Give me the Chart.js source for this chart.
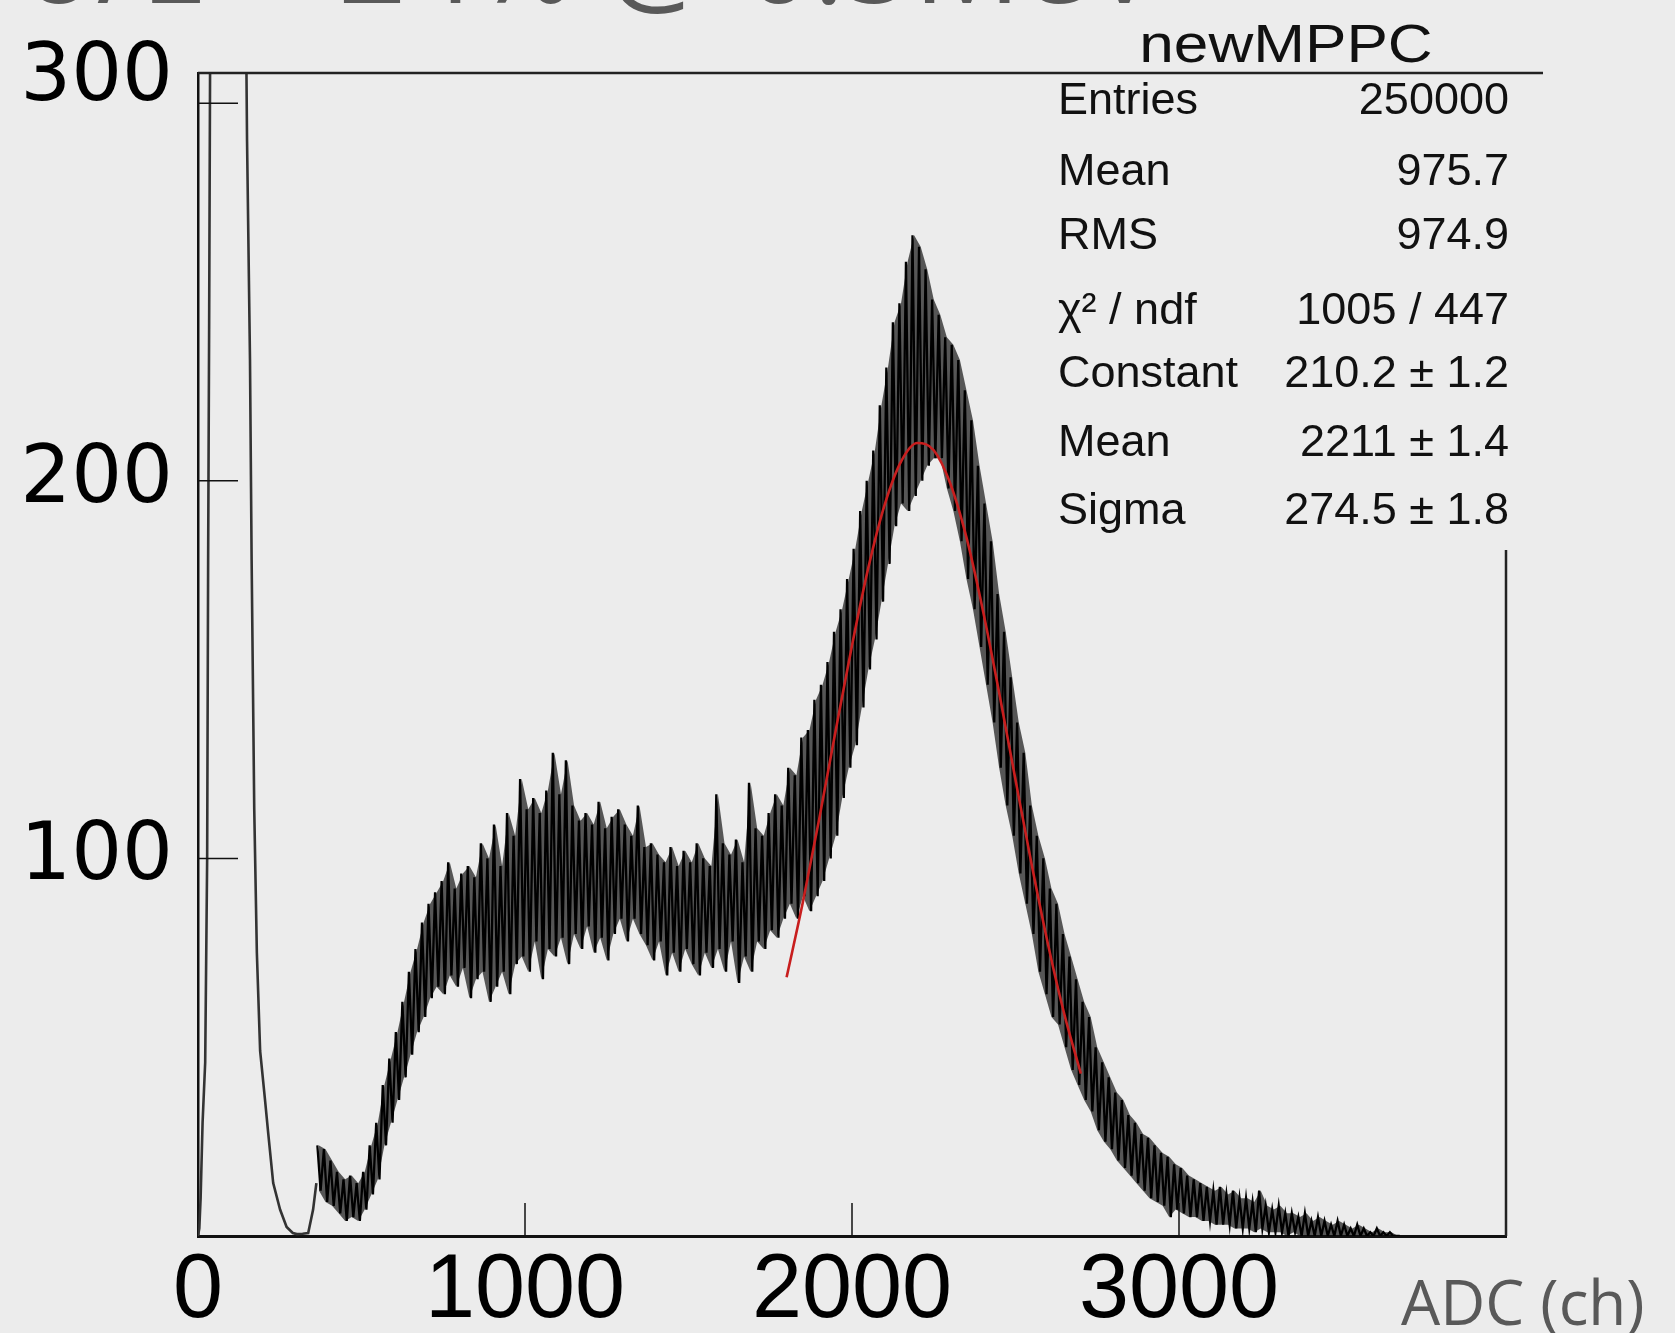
<!DOCTYPE html>
<html>
<head>
<meta charset="utf-8">
<script src="https://cdn.jsdelivr.net/npm/chart.js@4.4.0/dist/chart.umd.min.js"></script>
<style>
  html, body { margin: 0; padding: 0; background: #ececec; }
  #wrap { width: 1675px; height: 1333px; position: relative; }
</style>
</head>
<body>
<div id="wrap"><canvas id="c"></canvas></div>
<script>
  // Achsen
  const X_TICKS = [0, 1000, 2000, 3000];
  const Y_TICKS = [100, 200, 300];
  const X_MAX = 4000;
  const Y_MAX = 308;

  // Pedestal-Peak (links, läuft oben aus dem Bild)
  const PED_ADC   = [0, 4, 8, 14, 22, 28, 31, 34, 37, 40, 60, 120, 146, 148, 150, 159, 164, 172, 180, 190, 205, 215, 230, 251, 271, 290, 302, 320, 337, 352, 362];
  const PED_COUNT = [0, 2, 10, 30, 46, 100, 179, 240, 311, 1000, 3000, 3000, 1000, 310, 290, 232, 179, 113, 75, 49, 36, 27, 14, 7, 2.4, 0.8, 0.5, 0.6, 0.8, 7, 14];

  // Verrauschtes Spektrum: je 20-ADC-Fenster Ober- und Unterkante des Bandes
  const BAND_FIRST = 370;
  const BAND_STEP = 20;
  const BAND_HIGH = [
    24, 23, 20, 17, 15, 16, 14, 17, 24, 30,
    40, 47, 54, 62, 70, 76, 83, 88, 91, 94,
    99, 92, 96, 98, 95, 104, 100, 109, 98, 112,
    106, 121, 113, 116, 112, 118, 128, 117, 126, 114,
    110, 112, 109, 115, 108, 111, 113, 109, 106, 114,
    103, 104, 101, 99, 103, 98, 102, 99, 104, 100,
    98, 117, 104, 101, 105, 99, 120, 108, 106, 112,
    117, 114, 124, 122, 132, 134, 142, 146, 152, 160,
    166, 174, 182, 192, 200, 208, 220, 230, 242, 247,
    258, 265, 262, 256, 248, 244, 238, 236, 232, 224,
    216, 204, 194, 184, 170, 160, 148, 136, 128, 114,
    106, 100, 92, 88, 80, 74, 68, 62, 58, 50,
    46, 42, 38, 36, 32, 30, 27, 26, 24, 22,
    21, 19, 18, 16, 15, 14, 13, 12, 13, 11,
    12, 10, 10, 9, 12, 8, 7, 8, 6, 6,
    5, 6, 4, 5, 4, 3, 4, 3, 2, 3,
    2, 1, 2, 1, 1, 0
  ];
  const BAND_LOW = [
    12, 9, 8, 6, 4, 5, 4, 7, 11, 15,
    24, 30, 36, 42, 48, 54, 58, 63, 66, 64,
    69, 66, 71, 63, 68, 70, 62, 66, 70, 64,
    72, 74, 70, 78, 68, 76, 74, 79, 72, 80,
    76, 82, 75, 79, 73, 80, 84, 78, 84, 80,
    77, 73, 78, 69, 75, 70, 76, 72, 69, 75,
    71, 76, 70, 78, 67, 74, 70, 78, 76, 81,
    79, 84, 88, 84, 90, 86, 90, 94, 100, 106,
    116, 124, 130, 140, 150, 158, 168, 178, 188, 194,
    192, 196, 200, 204, 206, 206, 198, 192, 184, 174,
    166, 156, 146, 136, 124, 114, 106, 96, 88, 80,
    70, 64, 58, 56, 50, 44, 40, 36, 33, 28,
    25, 23, 20, 18, 16, 14, 12, 10, 9, 8,
    5, 7, 6, 5, 5, 4, 4, 3, 3, 3,
    2, 2, 2, 1, 2, 1, 1, 1, 0, 1,
    0, 0, 0, 0, 0, 0, 0, 0, 0, 0,
    0, 0, 0, 0, 0, 0
  ];

  // Gauss-Fit (rote Kurve)
  const FIT_ADC   = [1800, 1850, 1900, 1950, 2000, 2050, 2100, 2150, 2200, 2250, 2300, 2350, 2400, 2450, 2500, 2550, 2600, 2650, 2700];
  const FIT_COUNT = [68.5, 88.5, 110.6, 133.8, 156.4, 177.0, 193.7, 205.1, 210.0, 208.1, 199.4, 185.0, 165.8, 143.9, 120.8, 98.1, 77.0, 58.5, 43.0];

  // Statistik-Box
  const STAT_TITLE = 'newMPPC';
  const STAT_LABELS = ['Entries', 'Mean', 'RMS', 'χ² / ndf', 'Constant', 'Mean', 'Sigma'];
  const STAT_VALUES = ['250000', '975.7', '974.9', '1005 / 447', '210.2 ± 1.2', '2211 ± 1.4', '274.5 ± 1.8'];

  const SLIDE_TITLE = 'σ/E ~ 24% @ 0.5MeV';
  const X_TITLE = 'ADC (ch)';

  const BG = '#ececec';

  // Zickzack zwischen Ober- und Unterkante je Fenster
  const bandPoints = [];
  BAND_HIGH.forEach((h, i) => {
    const c = BAND_FIRST + i * BAND_STEP;
    bandPoints.push({ x: c - 5, y: h }, { x: c + 5, y: BAND_LOW[i] });
  });
  // Hüllkurven fuer die dunkle Kernflaeche
  const bandTop = BAND_HIGH.map((h, i) => ({ x: BAND_FIRST + i * BAND_STEP, y: h }));
  const bandBottom = BAND_LOW.map((l, i) => ({ x: BAND_FIRST + i * BAND_STEP, y: l }));

  const rootStyle = {
    id: 'rootStyle',
    beforeDraw(chart) {
      const ctx = chart.ctx;
      ctx.save();
      ctx.fillStyle = BG;
      ctx.fillRect(0, 0, chart.width, chart.height);
      ctx.restore();
    },
    afterDatasetsDraw(chart) {
      const { ctx, chartArea: a, scales: { x, y } } = chart;
      ctx.save();
      ctx.strokeStyle = '#111';
      ctx.lineWidth = 1.5;
      ctx.beginPath();
      Y_TICKS.forEach(v => {
        const py = y.getPixelForValue(v);
        ctx.moveTo(a.left, py); ctx.lineTo(a.left + 40, py);
      });
      X_TICKS.forEach(v => {
        if (v === 0) return;
        const px = x.getPixelForValue(v);
        ctx.moveTo(px, a.bottom); ctx.lineTo(px, a.bottom - 33);
      });
      ctx.stroke();

      // Statistik-Box (verdeckt den rechten Rahmen oben)
      const boxL = 1031, boxR = 1543, boxB = 550;
      ctx.fillStyle = BG;
      ctx.fillRect(boxL, a.top + 1, boxR - boxL, boxB - a.top);

      ctx.strokeStyle = '#222';
      ctx.lineWidth = 2.5;
      ctx.beginPath();
      ctx.moveTo(a.left, a.top); ctx.lineTo(boxR, a.top);
      ctx.moveTo(a.right, boxB); ctx.lineTo(a.right, a.bottom);
      ctx.stroke();

      ctx.fillStyle = '#111';
      ctx.textBaseline = 'alphabetic';
      ctx.save();
      ctx.font = '54px "Liberation Sans", Arial, sans-serif';
      ctx.translate(1286, 62);
      ctx.scale(1.15, 1);
      ctx.textAlign = 'center';
      ctx.fillText(STAT_TITLE, 0, 0);
      ctx.restore();

      const rowBase = [114, 185, 249, 324, 387, 456, 524];
      ctx.font = '45px "Liberation Sans", Arial, sans-serif';
      STAT_LABELS.forEach((t, i) => {
        ctx.textAlign = 'left';
        ctx.fillText(t, 1058, rowBase[i]);
        ctx.textAlign = 'right';
        ctx.fillText(STAT_VALUES[i], 1509, rowBase[i]);
      });
      ctx.restore();
    },
    afterDraw(chart) {
      const ctx = chart.ctx;
      ctx.save();
      ctx.fillStyle = '#595959';
      ctx.font = '62px "Open Sans", sans-serif';
      ctx.textAlign = 'left';
      ctx.textBaseline = 'alphabetic';
      ctx.fillText(X_TITLE, 1401, 1325);
      ctx.font = '120px "Open Sans", sans-serif';
      ctx.textAlign = 'right';
      ctx.fillText(SLIDE_TITLE, 1160, 3);
      ctx.restore();
    }
  };

  new Chart(document.getElementById('c'), {
    type: 'line',
    data: {
      datasets: [
        {
          label: 'pedestal',
          data: PED_ADC.map((v, i) => ({ x: v, y: PED_COUNT[i] })),
          borderColor: '#333',
          borderWidth: 2.6,
          pointRadius: 0,
          tension: 0,
          order: 2
        },
        {
          label: 'bandTop',
          data: bandTop,
          borderWidth: 0,
          borderColor: 'rgba(0,0,0,0)',
          pointRadius: 0,
          fill: false,
          order: 3
        },
        {
          label: 'bandBottom',
          data: bandBottom,
          borderWidth: 0,
          borderColor: 'rgba(0,0,0,0)',
          backgroundColor: 'rgba(15,15,15,0.68)',
          pointRadius: 0,
          fill: '-1',
          order: 3
        },
        {
          label: 'newMPPC',
          data: bandPoints,
          borderColor: '#000',
          borderWidth: 2.3,
          pointRadius: 0,
          tension: 0,
          order: 1
        },
        {
          label: 'gaus',
          data: FIT_ADC.map((v, i) => ({ x: v, y: FIT_COUNT[i] })),
          borderColor: '#c81e1e',
          borderWidth: 2.6,
          pointRadius: 0,
          cubicInterpolationMode: 'monotone',
          order: 0
        }
      ]
    },
    options: {
      responsive: true,
      maintainAspectRatio: false,
      animation: false,
      layout: { padding: { left: 0, top: 73, right: 169, bottom: 0 } },
      plugins: { legend: { display: false }, tooltip: { enabled: false }, filler: { propagate: false } },
      scales: {
        x: {
          type: 'linear',
          min: 0,
          max: X_MAX,
          afterFit: s => { s.height = 97; },
          afterBuildTicks: s => { s.ticks = X_TICKS.map(v => ({ value: v })); },
          grid: { display: true, drawOnChartArea: false, drawTicks: false },
          border: { display: true, color: '#111', width: 3 },
          ticks: {
            color: '#000',
            font: { family: '"Liberation Sans", Arial, sans-serif', size: 90 },
            padding: 2,
            maxRotation: 0,
            autoSkip: false,
            callback: v => String(v)
          }
        },
        y: {
          min: 0,
          max: Y_MAX,
          afterFit: s => { s.width = 198; },
          afterBuildTicks: s => { s.ticks = Y_TICKS.map(v => ({ value: v })); },
          grid: { display: true, drawOnChartArea: false, drawTicks: false },
          border: { display: true, color: '#111', width: 2.5 },
          ticks: {
            color: '#000',
            font: { family: '"DejaVu Sans", sans-serif', size: 80, lineHeight: 0.6 },
            padding: 25,
            autoSkip: false,
            // oberstes Label sitzt im Original etwas höher
            callback: v => (v === 300 ? ['300', ''] : String(v))
          }
        }
      }
    },
    plugins: [rootStyle]
  });
</script>
</body>
</html>
